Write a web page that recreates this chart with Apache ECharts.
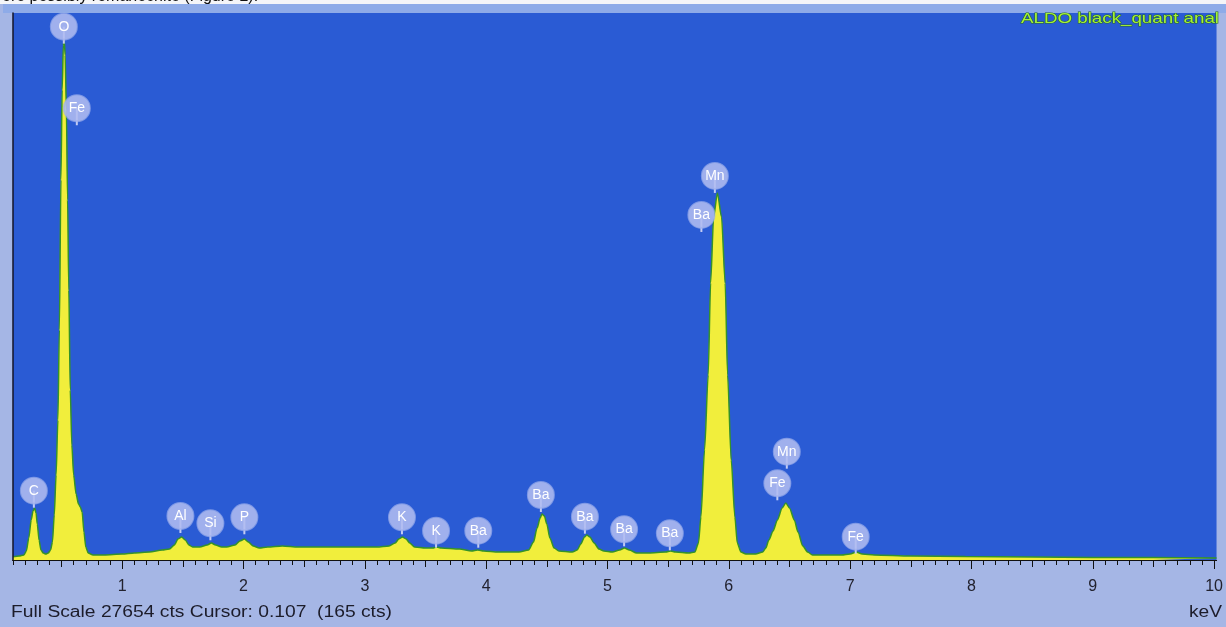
<!DOCTYPE html>
<html><head><meta charset="utf-8">
<script src="https://cdn.jsdelivr.net/npm/echarts@6/dist/echarts.min.js"></script>
<style>html,body{margin:0;padding:0;background:#ffffff;}#c{width:1226px;height:627px;}</style>
</head><body><div id="c"></div>
<script>
// ---- spectrum data (keV, counts) ----
const energy = [0.1,0.15,0.19,0.21,0.23,0.25,0.265,0.278,0.29,0.30,0.315,0.33,0.35,0.37,0.39,
  0.41,0.425,0.44,0.455,0.47,0.482,0.495,0.505,0.515,0.522,0.53,0.54,0.55,0.56,0.572,0.585,0.60,0.62,0.64,0.655,0.67,0.685,0.70,0.72,
  0.76,0.85,1.0,1.1,1.225,1.33,1.39,1.43,1.46,1.49,1.52,1.55,1.58,1.64,1.70,1.735,1.77,1.82,1.86,1.93,1.97,2.007,2.04,2.08,2.13,2.2,2.32,2.45,2.6,2.8,2.955,
  3.1,3.2,3.25,3.28,3.31,3.34,3.37,3.41,3.5,3.56,3.59,3.63,3.78,3.88,3.93,3.98,4.1,4.27,4.35,4.39,4.42,4.445,4.46,4.48,4.50,4.525,4.56,4.6,
  4.71,4.75,4.78,4.81,4.83,4.855,4.89,4.93,4.97,5.04,5.1,5.14,5.18,5.24,5.34,5.48,5.52,5.56,5.67,5.72,
  5.75,5.77,5.80,5.83,5.85,5.875,5.906,5.94,5.97,5.99,6.02,6.05,6.07,6.10,6.14,6.22,6.28,6.305,6.33,6.365,6.40,6.44,6.47,6.50,6.54,6.57,6.61,6.65,6.69,
  6.8,6.93,7.0,7.05,7.1,7.2,7.5,7.95,8.5,9.0,9.5,10.02];
const counts = [165,202,253,455,1112,2022,2477,2629,2376,1820,1011,506,354,303,354,
  506,910,2275,4298,7078,11629,19213,23763,26038,26291,25533,22752,18202,13651,8595,5814,4298,3337,2831,2680,2427,1416,657,354,
  253,253,303,354,404,506,556,758,1062,1163,1011,758,657,657,758,860,758,657,657,758,961,1062,910,708,607,657,708,657,657,657,657,
  657,708,860,1062,1163,1062,860,657,607,607,657,607,556,455,506,455,404,404,506,910,1618,2124,2326,2225,1820,1112,607,455,
  404,506,809,1163,1264,1163,860,556,455,404,506,607,506,354,354,404,455,404,354,404,
  860,2174,5562,9354,14005,17342,18556,17342,14005,9354,5056,2174,860,404,303,303,404,607,1011,1466,2022,2629,2882,2629,2022,1416,708,404,253,
  253,253,303,404,303,253,202,177,152,126,126,101];

// ---- element markers ----
const peakNames  = ['C','O','Fe','Al','Si','P','K','K','Ba','Ba','Ba','Ba','Ba','Mn','Ba','Mn','Fe','Fe'];
const peakEnergy = [0.272,0.519,0.626,1.480,1.727,2.007,3.306,3.587,3.935,4.451,4.814,5.137,5.514,5.885,5.774,6.478,6.400,7.046];
const peakLabelCts = [3504,26964,22838,2225,1856,2159,2159,1481,1481,3286,2189,1552,1350,19415,17443,5476,3878,1178];

// ---- axis ----
const fullScale = 27654;
const xMin = 0.1, xMax = 10.02;
const majorTicks = [1,2,3,4,5,6,7,8,9,10];
const halfTicks = [0.5,1.5,2.5,3.5,4.5,5.5,6.5,7.5,8.5,9.5];
const minorTicks = [];
for (let i = 1; i <= 100; i++) minorTicks.push(i / 10);

const statusText = 'Full Scale 27654 cts Cursor: 0.107  (165 cts)';
const titleText = 'ALDO black_quant anal';
const unitText = 'keV';
const pageText = 'ore possibly romanechite (Figure 2).';

function measure(text, font) {
  const ctx = document.createElement('canvas').getContext('2d');
  ctx.font = font;
  return ctx.measureText(text).width;
}
const FONT = '"Liberation Sans", Arial, sans-serif';
const titleFont = '15px ' + FONT;
const statusFont = '16px ' + FONT;
const titleScale = 198 / measure(titleText, titleFont);
const statusScale = 381 / measure(statusText, statusFont);
const unitScale = 33 / measure(unitText, statusFont);

const chart = echarts.init(document.getElementById('c'), null, {renderer: 'canvas'});

function xAxisBase(ticks, len, showLabel) {
  return {
    type: 'value', min: xMin, max: xMax, position: 'bottom', offset: 0,
    axisLine: {show: true, lineStyle: {color: '#111', width: 1}},
    axisTick: {show: true, customValues: ticks, length: len, lineStyle: {color: '#111', width: 1}},
    axisLabel: showLabel ? {
      show: true, customValues: majorTicks, margin: 19, color: '#22222e',
      fontSize: 16, fontFamily: FONT, formatter: v => String(Math.round(v))
    } : {show: false},
    splitLine: {show: false}, z: 5
  };
}

chart.setOption({
  backgroundColor: '#a5b6e5',
  animation: false,
  grid: {left: 13, right: 9, top: 13, bottom: 67, show: true, backgroundColor: '#2a5bd4', borderWidth: 0},
  xAxis: [xAxisBase(minorTicks, 5, false), xAxisBase(halfTicks, 7, false), xAxisBase(majorTicks, 9, true)],
  yAxis: {
    type: 'value', min: 0, max: fullScale, z: 5,
    axisLine: {show: true, lineStyle: {color: '#141428', width: 1.5}},
    axisTick: {show: false}, axisLabel: {show: false}, splitLine: {show: false}
  },
  graphic: [
    {type: 'rect', shape: {x: 0, y: 0, width: 1226, height: 4}, style: {fill: '#f4f5f8'}, z: 10},
    {type: 'rect', shape: {x: 3, y: 4, width: 1223, height: 9}, style: {fill: '#8eabe8'}, z: 1},
    {type: 'text', x: 2, y: 5, style: {text: pageText, font: '16px ' + FONT, fill: '#111', verticalAlign: 'bottom'}, z: 11},
    {type: 'text', x: 1219, y: 19, scaleX: titleScale, z: 20,
      style: {text: titleText, font: titleFont, fill: '#a4f03a', align: 'right', verticalAlign: 'middle',
        stroke: '#2c6a1e', lineWidth: 1}},
    {type: 'text', x: 11, y: 613, scaleX: statusScale, z: 20,
      style: {text: statusText, font: statusFont, fill: '#1c1c2a', align: 'left', verticalAlign: 'middle'}},
    {type: 'text', x: 1222, y: 613, scaleX: unitScale, z: 20,
      style: {text: unitText, font: statusFont, fill: '#1c1c2a', align: 'right', verticalAlign: 'middle'}}
  ],
  series: [
    {
      type: 'line', xAxisIndex: 0, yAxisIndex: 0,
      data: energy.map((e, i) => [e, counts[i]]),
      showSymbol: false, smooth: 0.25, smoothMonotone: 'x', z: 2,
      lineStyle: {color: '#35922a', width: 1.5},
      areaStyle: {color: '#f1ee3c', opacity: 1}
    },
    {
      type: 'custom', xAxisIndex: 0, yAxisIndex: 0, z: 4,
      data: peakEnergy.map((e, i) => [e, peakLabelCts[i]]),
      renderItem: function (params, api) {
        const p = api.coord([api.value(0), api.value(1)]);
        const name = peakNames[params.dataIndex];
        return {
          type: 'group',
          children: [
            {type: 'line', shape: {x1: p[0], y1: p[1], x2: p[0], y2: p[1] + 17},
              style: {stroke: '#c3ccf4', lineWidth: 2}},
            {type: 'circle', shape: {cx: p[0], cy: p[1], r: 13},
              style: {fill: 'rgba(176,188,240,0.88)', stroke: 'rgba(160,176,236,0.7)', lineWidth: 2}},
            {type: 'text', style: {text: name, x: p[0], y: p[1], align: 'center', verticalAlign: 'middle',
              fill: '#ffffff', font: '14px ' + FONT}}
          ]
        };
      }
    }
  ]
});
</script>
</body></html>
